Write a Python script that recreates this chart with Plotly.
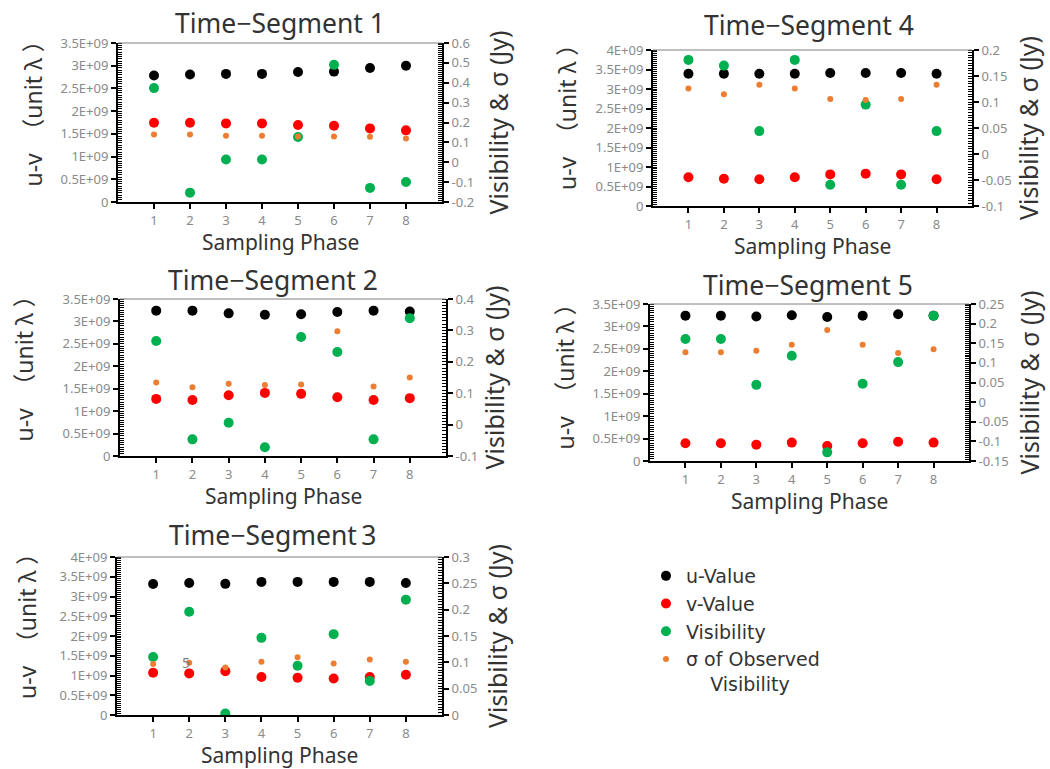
import plotly.graph_objects as go

W, H = 1050, 769

# Sampling phases (shared by every segment)
phases = [1, 2, 3, 4, 5, 6, 7, 8]

# Time-Segment 1
seg1_u = [2.785e9, 2.807e9, 2.82e9, 2.82e9, 2.86e9, 2.87e9, 2.95e9, 3.0e9]
seg1_v = [1.746e9, 1.746e9, 1.73e9, 1.73e9, 1.695e9, 1.68e9, 1.62e9, 1.577e9]
seg1_vis = [0.373, -0.153, 0.014, 0.014, 0.127, 0.49, -0.129, -0.099]
seg1_sig = [0.139, 0.139, 0.133, 0.133, 0.13, 0.13, 0.128, 0.12]

# Time-Segment 2
seg2_u = [3.24e9, 3.24e9, 3.18e9, 3.15e9, 3.16e9, 3.21e9, 3.24e9, 3.22e9]
seg2_v = [1.273e9, 1.25e9, 1.355e9, 1.407e9, 1.385e9, 1.31e9, 1.25e9, 1.29e9]
seg2_vis = [0.266, -0.047, 0.006, -0.072, 0.279, 0.231, -0.047, 0.339]
seg2_sig = [0.134, 0.119, 0.130, 0.126, 0.128, 0.297, 0.121, 0.15]

# Time-Segment 3
seg3_u = [3.318e9, 3.343e9, 3.32e9, 3.37e9, 3.37e9, 3.37e9, 3.37e9, 3.343e9]
seg3_v = [1.07e9, 1.053e9, 1.11e9, 0.96e9, 0.943e9, 0.926e9, 0.96e9, 1.02e9]
seg3_vis = [0.110, 0.196, 0.003, 0.1465, 0.0935, 0.1535, 0.0644, 0.219]
seg3_sig = [0.0966, 0.099, 0.090, 0.101, 0.1095, 0.098, 0.1055, 0.101]

# Time-Segment 4
seg4_u = [3.39e9, 3.39e9, 3.39e9, 3.39e9, 3.41e9, 3.41e9, 3.41e9, 3.39e9]
seg4_v = [0.737e9, 0.70e9, 0.685e9, 0.737e9, 0.81e9, 0.83e9, 0.81e9, 0.685e9]
seg4_vis = [0.181, 0.170, 0.044, 0.181, -0.059, 0.095, -0.059, 0.044]
seg4_sig = [0.126, 0.115, 0.133, 0.126, 0.106, 0.104, 0.106, 0.133]

# Time-Segment 5
seg5_u = [3.24e9, 3.24e9, 3.22e9, 3.25e9, 3.21e9, 3.24e9, 3.27e9, 3.24e9]
seg5_v = [0.395e9, 0.395e9, 0.365e9, 0.41e9, 0.335e9, 0.395e9, 0.43e9, 0.41e9]
seg5_vis = [0.161, 0.161, 0.044, 0.118, -0.128, 0.047, 0.102, 0.22]
seg5_sig = [0.127, 0.127, 0.131, 0.146, 0.184, 0.146, 0.125, 0.135]

# Tick values / labels
uv_ticks_35 = [0, 0.5e9, 1e9, 1.5e9, 2e9, 2.5e9, 3e9, 3.5e9]
uv_text_35 = ["0", "0.5E+09", "1E+09", "1.5E+09", "2E+09", "2.5E+09", "3E+09", "3.5E+09"]
uv_ticks_40 = uv_ticks_35 + [4e9]
uv_text_40 = uv_text_35 + ["4E+09"]

vis_ticks_1 = [-0.2, -0.1, 0, 0.1, 0.2, 0.3, 0.4, 0.5, 0.6]
vis_text_1 = ["-0.2", "-0.1", "0", "0.1", "0.2", "0.3", "0.4", "0.5", "0.6"]
vis_ticks_2 = [-0.1, 0, 0.1, 0.2, 0.3, 0.4]
vis_text_2 = ["-0.1", "0", "0.1", "0.2", "0.3", "0.4"]
vis_ticks_3 = [0, 0.05, 0.1, 0.15, 0.2, 0.25, 0.3]
vis_text_3 = ["0", "0.05", "0.1", "0.15", "0.2", "0.25", "0.3"]
vis_ticks_4 = [-0.1, -0.05, 0, 0.05, 0.1, 0.15, 0.2]
vis_text_4 = ["-0.1", "-0.05", "0", "0.05", "0.1", "0.15", "0.2"]
vis_ticks_5 = [-0.15, -0.1, -0.05, 0, 0.05, 0.1, 0.15, 0.2, 0.25]
vis_text_5 = ["-0.15", "-0.1", "-0.05", "0", "0.05", "0.1", "0.15", "0.2", "0.25"]

titles = ["Time−Segment 1", "Time−Segment 2", "Time−Segment\u20093",
          "Time−Segment 4", "Time−Segment 5"]
series_names = ["u-Value", "v-Value", "Visibility",
                "σ of Observed<br>\u00a0\u00a0\u00a0\u00a0Visibility"]
left_title = "u-v\u3000（unit λ ）"
right_title = "Visibility & σ (Jy)"

# Panel geometry in pixels: (left, top, right, bottom) of the plot area,
# plus the offsets of the title and the axis titles.
panels = [
    dict(box=(118, 43, 442, 202), title_dx=0, title_dy=20, lt_dx=-86, lt_dy=14, rt_dx=55,
         u=seg1_u, v=seg1_v, vis=seg1_vis, sig=seg1_sig,
         lt=uv_ticks_35, ltt=uv_text_35, rt=vis_ticks_1, rtt=vis_text_1, rminor=0.01),
    dict(box=(120, 299, 446, 456), title_dx=-10, title_dy=19, lt_dx=-97, lt_dy=14, rt_dx=47,
         u=seg2_u, v=seg2_v, vis=seg2_vis, sig=seg2_sig,
         lt=uv_ticks_35, ltt=uv_text_35, rt=vis_ticks_2, rtt=vis_text_2, rminor=0.01),
    dict(box=(117, 557, 442, 715), title_dx=-7, title_dy=22, lt_dx=-90, lt_dy=15, rt_dx=55,
         u=seg3_u, v=seg3_v, vis=seg3_vis, sig=seg3_sig,
         lt=uv_ticks_40, ltt=uv_text_40, rt=vis_ticks_3, rtt=vis_text_3, rminor=0.005),
    dict(box=(653, 50, 972, 206), title_dx=-4, title_dy=25, lt_dx=-86, lt_dy=16, rt_dx=56,
         u=seg4_u, v=seg4_v, vis=seg4_vis, sig=seg4_sig,
         lt=uv_ticks_40, ltt=uv_text_40, rt=vis_ticks_4, rtt=vis_text_4, rminor=0.005),
    dict(box=(650, 304, 969, 461), title_dx=-2, title_dy=19, lt_dx=-86, lt_dy=11, rt_dx=59,
         u=seg5_u, v=seg5_v, vis=seg5_vis, sig=seg5_sig,
         lt=uv_ticks_35, ltt=uv_text_35, rt=vis_ticks_5, rtt=vis_text_5, rminor=0.005),
]

BLACK, RED, GREEN, ORANGE = "#000000", "#FF0000", "#00B050", "#ED7D31"
TICK_FONT = dict(family="Noto Sans, Liberation Sans, sans-serif", size=13, color="#8a8a8a")
TEXT_FONT = "Noto Sans, Noto Sans CJK JP, sans-serif"
LEGEND_FONT = "DejaVu Sans, Noto Sans, sans-serif"
TEXT_COLOR = "#333333"


def ax_id(letter, n):
    """Short axis id used by traces and refs: 'x', 'x2', ..."""
    return letter if n == 1 else f"{letter}{n}"


def ax_key(letter, n):
    """Layout key of an axis: 'xaxis', 'xaxis2', ..."""
    return f"{letter}axis" if n == 1 else f"{letter}axis{n}"


fig = go.Figure()
layout = dict(
    width=W, height=H, margin=dict(l=0, r=0, t=0, b=0, autoexpand=False),
    paper_bgcolor="white", plot_bgcolor="white",
    showlegend=True,
    legend=dict(x=646 / W, y=1 - 557 / H, xanchor="left", yanchor="top",
                font=dict(family=LEGEND_FONT, size=19, color=TEXT_COLOR),
                valign="top", bgcolor="rgba(0,0,0,0)", itemsizing="trace"),
    annotations=[], shapes=[],
)

for i, p in enumerate(panels):
    l, t, r, b = p["box"]
    xa, xb = 2 * i + 1, 2 * i + 2
    ya, yb, yr, yr2 = 4 * i + 1, 4 * i + 2, 4 * i + 3, 4 * i + 4
    XA, YA, YR = ax_id("x", xa), ax_id("y", ya), ax_id("y", yr)
    xdom = [l / W, r / W]
    ydom = [1 - b / H, 1 - t / H]
    lrange = [p["lt"][0], p["lt"][-1]]
    rrange = [p["rt"][0], p["rt"][-1]]
    show = i == 0

    # Primary axis: u and v coordinates; secondary: visibility and sigma
    fig.add_trace(go.Scatter(x=phases, y=p["u"], mode="markers", name=series_names[0],
                             marker=dict(color=BLACK, size=10), xaxis=XA, yaxis=YA,
                             showlegend=show, legendrank=1))
    fig.add_trace(go.Scatter(x=phases, y=p["v"], mode="markers", name=series_names[1],
                             marker=dict(color=RED, size=10), xaxis=XA, yaxis=YA,
                             showlegend=show, legendrank=2))
    fig.add_trace(go.Scatter(x=phases, y=p["vis"], mode="markers", name=series_names[2],
                             marker=dict(color=GREEN, size=10), xaxis=XA, yaxis=YR,
                             showlegend=show, legendrank=3))
    fig.add_trace(go.Scatter(x=phases, y=p["sig"], mode="markers", name=series_names[3],
                             marker=dict(color=ORANGE, size=6), xaxis=XA, yaxis=YR,
                             showlegend=show, legendrank=4))

    common_x = dict(domain=xdom, range=[0, 9], tickvals=phases, showgrid=False,
                    zeroline=False, tickwidth=2, tickcolor=BLACK, ticklen=5,
                    fixedrange=True, automargin=False)
    layout[ax_key("x", xa)] = dict(common_x, anchor=YA, ticks="outside",
                                   ticktext=[str(k) for k in phases], tickfont=TICK_FONT,
                                   showline=True, linecolor=BLACK, linewidth=2)
    layout[ax_key("x", xb)] = dict(common_x, anchor=YA, overlaying=XA, side="bottom",
                                   ticks="inside", showticklabels=False, showline=False)

    common_l = dict(range=lrange, tickvals=p["lt"], showgrid=False, zeroline=False,
                    tickwidth=2, tickcolor=BLACK, ticklen=5, fixedrange=True,
                    automargin=False)
    layout[ax_key("y", ya)] = dict(common_l, domain=ydom, anchor=XA, side="left",
                                   ticks="outside", ticktext=p["ltt"], tickfont=TICK_FONT,
                                   showline=True, linecolor=BLACK, linewidth=2,
                                   minor=dict(ticks="inside", dtick=0.05e9, ticklen=4,
                                              tickwidth=1, tickcolor=BLACK))
    layout[ax_key("y", yb)] = dict(common_l, anchor=XA, overlaying=YA, side="left",
                                   ticks="inside", showticklabels=False, showline=False)

    common_r = dict(range=rrange, tickvals=p["rt"], showgrid=False, zeroline=False,
                    tickwidth=2, tickcolor=BLACK, ticklen=5, fixedrange=True,
                    automargin=False)
    layout[ax_key("y", yr)] = dict(common_r, anchor=XA, overlaying=YA, side="right",
                                   ticks="outside", ticktext=p["rtt"], tickfont=TICK_FONT,
                                   showline=True, linecolor=BLACK, linewidth=2,
                                   minor=dict(ticks="inside", dtick=p["rminor"], ticklen=4,
                                              tickwidth=1, tickcolor=BLACK))
    layout[ax_key("y", yr2)] = dict(common_r, anchor=XA, overlaying=YA, side="right",
                                    ticks="inside", showticklabels=False, showline=False)

    dref = dict(xref=f"{XA} domain", yref=f"{YA} domain")
    # thin top border of the plot frame
    layout["shapes"].append(dict(type="line", x0=0, x1=1, y0=1, y1=1,
                                 line=dict(color="#7f7f7f", width=1), **dref))

    # panel title
    layout["annotations"].append(dict(
        text=titles[i], x=0.5, y=1, xanchor="center", yanchor="middle",
        xshift=p["title_dx"], yshift=p["title_dy"], showarrow=False,
        font=dict(family=TEXT_FONT, size=26.5, color=TEXT_COLOR), **dref))
    # x-axis title
    layout["annotations"].append(dict(
        text="Sampling Phase", x=0.5, y=0, xanchor="center", yanchor="middle", yshift=-40,
        showarrow=False, font=dict(family=TEXT_FONT, size=21, color=TEXT_COLOR), **dref))
    # left axis title
    layout["annotations"].append(dict(
        text=left_title, x=0, y=0.5, xanchor="center", yanchor="middle",
        xshift=p["lt_dx"], yshift=p["lt_dy"], textangle=-90, showarrow=False,
        font=dict(family=TEXT_FONT, size=23, color=TEXT_COLOR), **dref))
    # right axis title
    layout["annotations"].append(dict(
        text=right_title, x=1, y=0.5, xanchor="center", yanchor="middle",
        xshift=p["rt_dx"], textangle=-90, showarrow=False,
        font=dict(family=TEXT_FONT, size=25, color=TEXT_COLOR), **dref))

# stray label inside Time-Segment 3
layout["annotations"].append(dict(
    text="5", xref="paper", yref="paper", x=186 / W, y=1 - 662 / H,
    xanchor="center", yanchor="middle", showarrow=False,
    font=dict(family="Noto Sans, sans-serif", size=14, color="#808080")))

fig.update_layout(**layout)
fig.write_html("out.html", post_script="document.body.style.margin = '0';")
